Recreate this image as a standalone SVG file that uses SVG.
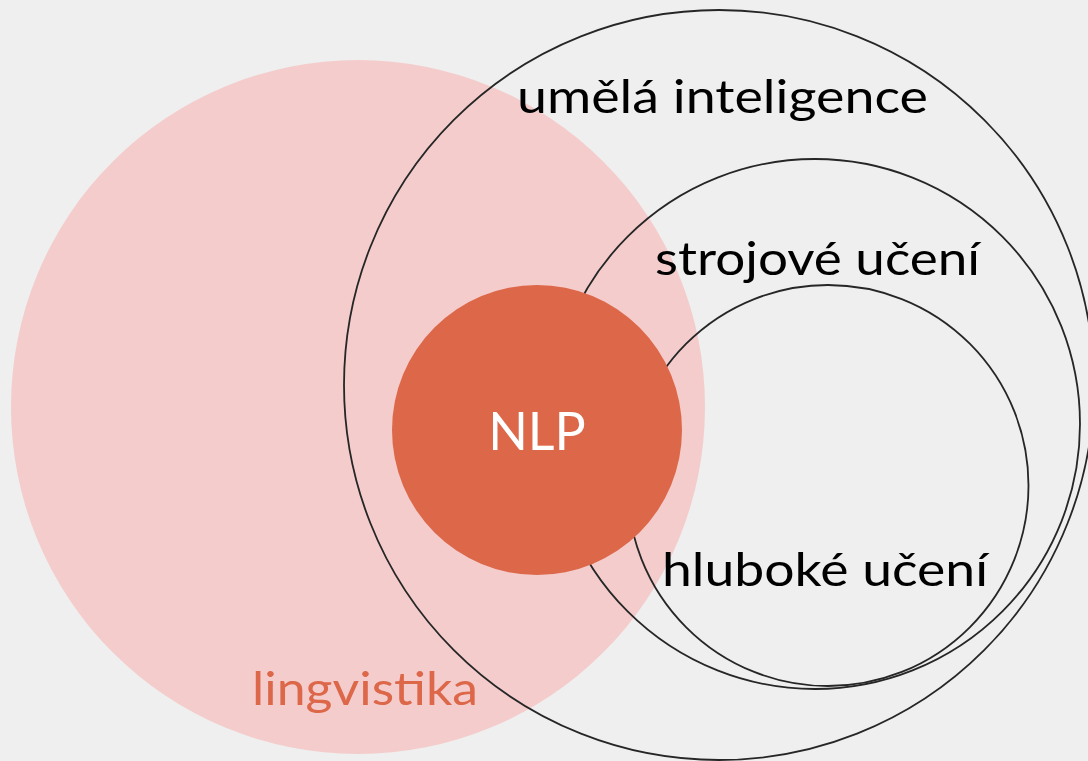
<svg xmlns="http://www.w3.org/2000/svg" width="1088" height="761" viewBox="0 0 1088 761">
<style>
.ring{fill:none;stroke:#262626;stroke-width:1.8}
.lbl{font-family:Lato,"Open Sans","Liberation Sans",sans-serif;font-size:46px;fill:#000}
</style>
<rect width="1088" height="761" fill="#efefef"/>
<g id="lingvistika">
<circle cx="358" cy="407" r="347" fill="#f4cccc"/>
<text class="lbl" x="252" y="705" textLength="226" lengthAdjust="spacingAndGlyphs" style="fill:#dc6749">lingvistika</text>
</g>
<g id="ai">
<circle class="ring" cx="719" cy="385" r="375"/>
</g>
<g id="ml">
<circle class="ring" cx="815" cy="424" r="265"/>
</g>
<g id="dl">
<circle class="ring" cx="828" cy="485.5" r="200.5"/>
</g>
<g id="nlp">
<circle cx="537" cy="430" r="145" fill="#dc6749"/>
<text x="537" y="450" text-anchor="middle" style="font-family:Lato,'Open Sans','Liberation Sans',sans-serif;font-size:52px;fill:#fff">NLP</text>
</g>
<g id="labels">
<text class="lbl" x="517" y="113" textLength="411" lengthAdjust="spacingAndGlyphs">umělá inteligence</text>
<text class="lbl" x="655" y="275" textLength="325" lengthAdjust="spacingAndGlyphs">strojové učení</text>
<text class="lbl" x="662" y="586" textLength="326" lengthAdjust="spacingAndGlyphs">hluboké učení</text>
</g>
</svg>
